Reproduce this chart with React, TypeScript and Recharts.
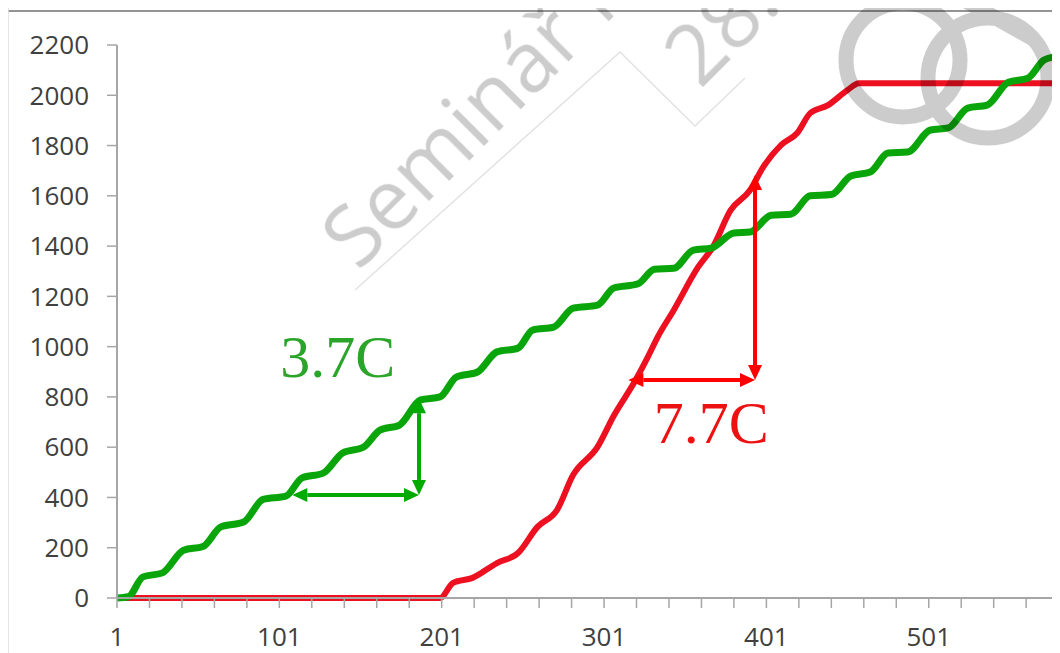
import { Line, LineChart, ReferenceDot, ReferenceLine, XAxis, YAxis } from 'recharts'

const greenDays = [1, 8, 17, 29, 42, 54, 65, 79, 91, 105, 115, 128, 140, 153, 163, 175, 188, 200, 210, 223, 235, 248, 257, 270, 282, 297, 307, 322, 332, 344, 356, 367, 381, 391, 404, 416, 428, 441, 453, 465, 476, 488, 502, 513, 525, 537, 550, 562, 572, 580]
const greenCounts = [0, 5, 84, 100, 190, 205, 283, 302, 392, 405, 478, 497, 577, 601, 668, 688, 788, 800, 879, 899, 979, 994, 1066, 1078, 1153, 1165, 1233, 1250, 1308, 1312, 1384, 1392, 1452, 1456, 1523, 1527, 1600, 1605, 1679, 1695, 1770, 1774, 1862, 1870, 1949, 1961, 2052, 2068, 2140, 2155]

const redDays = [1, 200, 208, 220, 235, 248, 260, 272, 282, 297, 307, 320, 328, 334, 344, 359, 368, 379, 391, 399, 410, 420, 428, 439, 451, 458, 580]
const redCounts = [0, 0, 60, 80, 139, 179, 283, 350, 490, 601, 725, 862, 959, 1038, 1146, 1317, 1396, 1543, 1623, 1714, 1802, 1850, 1929, 1961, 2021, 2048, 2048]

const xTicks = [1, 21, 41, 61, 81, 101, 121, 141, 161, 181, 201, 221, 241, 261, 281, 301, 321, 341, 361, 381, 401, 421, 441, 461, 481, 501, 521, 541, 561]
const yTicks = [0, 200, 400, 600, 800, 1000, 1200, 1400, 1600, 1800, 2000, 2200]

// arrow ends: [from, to] in chart units
const greenArrowX = [109, 187]
const greenArrowY = [410, 795]
const redArrowX = [316, 394]
const redArrowY = [867, 1683]

const greenLabel = { text: '3.7C', x: 137, y: 879 }
const redLabel = { text: '7.7C', x: 367, y: 617 }

const greenData = greenDays.map((x, i) => ({ x, v: greenCounts[i] }))
const redData = redDays.map((x, i) => ({ x, v: redCounts[i] }))

const GREEN = '#0aa50a'
const RED = '#ec1020'
const axisColor = '#a6a6a6'
const tickStyle = { fontSize: 26, fill: '#404040', fontFamily: 'Open Sans' }

function makeArrow(color: string) {
  return (p: any) => {
    const { x1, y1, x2, y2 } = p
    const dx = x2 - x1
    const dy = y2 - y1
    const len = Math.sqrt(dx * dx + dy * dy) || 1
    const ux = dx / len
    const uy = dy / len
    const hl = 15
    const hw = 7
    const head = (tx: number, ty: number, dirx: number, diry: number) => {
      const bx = tx - dirx * hl
      const by = ty - diry * hl
      return `${tx},${ty} ${bx - diry * hw},${by + dirx * hw} ${bx + diry * hw},${by - dirx * hw}`
    }
    return (
      <g>
        <line x1={x1 + ux * hl} y1={y1 + uy * hl} x2={x2 - ux * hl} y2={y2 - uy * hl} stroke={color} strokeWidth={4} />
        <polygon points={head(x2, y2, ux, uy)} fill={color} />
        <polygon points={head(x1, y1, -ux, -uy)} fill={color} />
      </g>
    )
  }
}

function makeLabel(text: string, color: string) {
  return (p: any) => (
    <text x={p.cx} y={p.cy} textAnchor="middle" fill={color} fontSize={60} fontFamily="Liberation Serif">
      {text}
    </text>
  )
}

export default function App() {
  return (
    <div style={{ position: 'relative', width: 1052, height: 645 }}>
      <LineChart width={1052} height={645} margin={{ top: 37, right: 3, bottom: 5, left: 0 }}>
        <XAxis
          dataKey="x"
          type="number"
          domain={[1, 580]}
          ticks={xTicks}
          interval={0}
          tickFormatter={(v: number) => ((v - 1) % 100 === 0 ? String(v) : '')}
          tick={tickStyle}
          tickSize={10}
          tickMargin={20}
          height={50}
          axisLine={{ stroke: axisColor, strokeWidth: 2 }}
          tickLine={{ stroke: axisColor, strokeWidth: 1.5 }}
        />
        <YAxis
          type="number"
          domain={[0, 2200]}
          ticks={yTicks}
          interval={0}
          tick={tickStyle}
          tickSize={10}
          tickMargin={18}
          width={109}
          axisLine={{ stroke: axisColor, strokeWidth: 2 }}
          tickLine={{ stroke: axisColor, strokeWidth: 1.5 }}
        />
        <Line data={redData} dataKey="v" type="monotone" stroke={RED} strokeWidth={6} dot={false} isAnimationActive={false} />
        <Line data={greenData} dataKey="v" type="monotone" stroke={GREEN} strokeWidth={7} dot={false} isAnimationActive={false} />
        <ReferenceLine segment={[{ x: greenArrowX[0], y: greenArrowY[0] }, { x: greenArrowX[1], y: greenArrowY[0] }]} shape={makeArrow('#00aa00')} />
        <ReferenceLine segment={[{ x: greenArrowX[1], y: greenArrowY[0] }, { x: greenArrowX[1], y: greenArrowY[1] }]} shape={makeArrow('#00aa00')} />
        <ReferenceLine segment={[{ x: redArrowX[0], y: redArrowY[0] }, { x: redArrowX[1], y: redArrowY[0] }]} shape={makeArrow('#ff0000')} />
        <ReferenceLine segment={[{ x: redArrowX[1], y: redArrowY[0] }, { x: redArrowX[1], y: redArrowY[1] }]} shape={makeArrow('#ff0000')} />
        <ReferenceDot x={greenLabel.x} y={greenLabel.y} r={0} shape={makeLabel(greenLabel.text, '#2aa52a')} />
        <ReferenceDot x={redLabel.x} y={redLabel.y} r={0} shape={makeLabel(redLabel.text, '#ee1111')} />
      </LineChart>
      <svg width={1060} height={653} style={{ position: 'absolute', left: -8, top: -8, pointerEvents: 'none' }}>
        <line x1={0} y1={11} x2={1060} y2={11} stroke="#707070" strokeWidth={1.5} />
        <line x1={8} y1={0} x2={8} y2={653} stroke="#dcdcdc" strokeWidth={1.5} />
        <polyline points="355,290 620,52 695,126 745,78" fill="none" stroke="#e2e2e2" strokeWidth={1.5} />
        <g opacity={0.2}>
          <text x={358} y={272} fontSize={84} fontFamily="Open Sans" fill="#000" transform="rotate(-45 358 272)">
            Seminář K
          </text>
          <text x={700} y={90} fontSize={84} fontFamily="Open Sans" fill="#000" transform="rotate(-45 700 90)">
            28.
          </text>
          <circle cx={903} cy={60} r={57} fill="none" stroke="#000" strokeWidth={15} />
          <circle cx={988} cy={78} r={60} fill="none" stroke="#000" strokeWidth={15} />
          <line x1={955} y1={-5} x2={1035} y2={40} stroke="#000" strokeWidth={15} />
        </g>
      </svg>
    </div>
  )
}
